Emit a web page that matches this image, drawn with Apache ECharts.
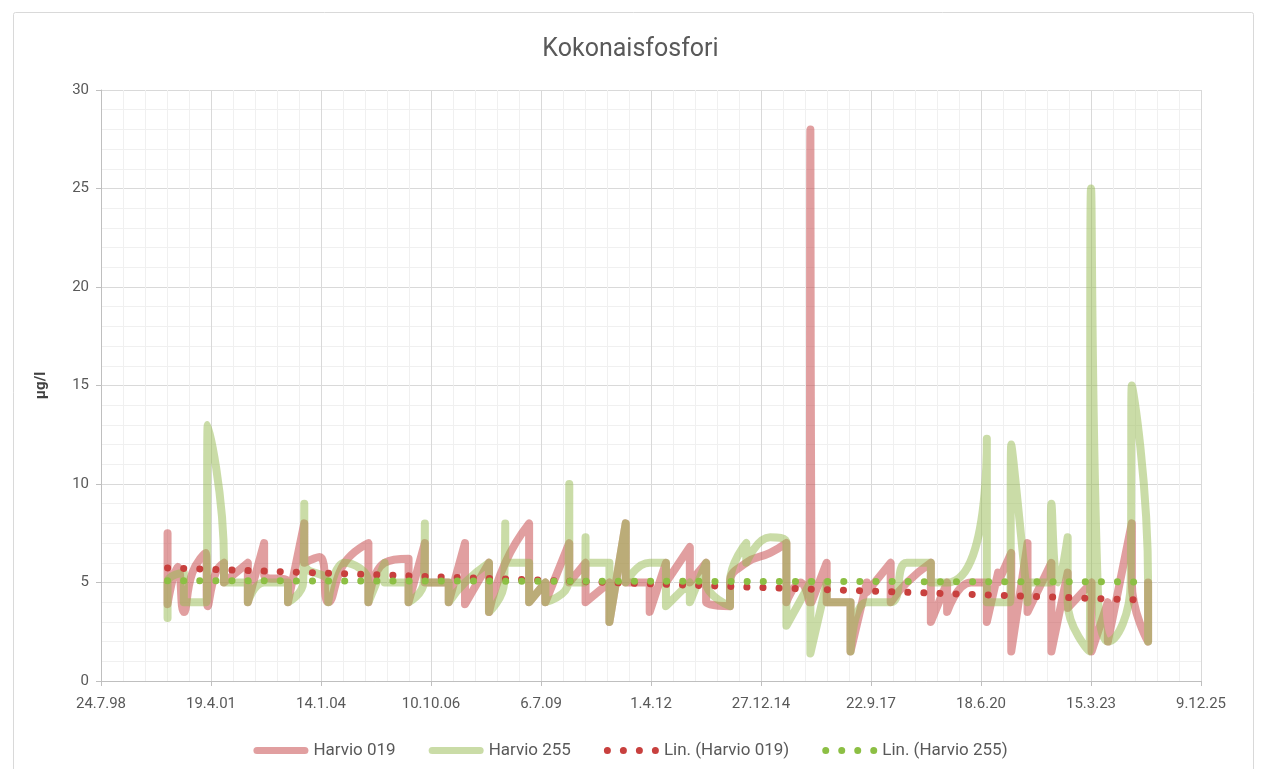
<!DOCTYPE html>
<html>
<head>
<meta charset="utf-8">
<script src="https://cdn.jsdelivr.net/npm/echarts@6/dist/echarts.min.js"></script>
<style>
html, body { margin: 0; padding: 0; background: #fff; }
#chart { width: 1261px; height: 769px; }
</style>
</head>
<body>
<div id="chart"></div>
<script>
// Harvio 019: sample dates and values (two depths on most dates)
var dates019 = [
    '2000-03-20', '2000-03-20', '2000-06-20', '2000-08-15', '2000-11-01', '2001-03-01', '2001-03-20', '2001-06-01',
    '2001-08-15', '2001-08-15', '2002-03-20', '2002-03-20', '2002-08-15', '2002-08-15', '2003-03-20', '2003-03-20',
    '2003-08-15', '2003-08-15', '2004-01-01', '2004-03-20', '2004-08-15', '2004-08-15', '2005-03-20', '2005-03-20',
    '2005-08-15', '2005-08-15', '2006-03-20', '2006-03-20', '2006-08-15', '2006-08-15', '2007-03-20', '2007-03-20',
    '2007-08-15', '2007-08-15', '2008-03-20', '2008-03-20', '2008-08-15', '2008-08-15', '2009-03-20', '2009-03-20',
    '2009-08-15', '2009-08-15', '2010-03-20', '2010-03-20', '2010-08-15', '2010-08-15', '2011-03-20', '2011-03-20',
    '2011-08-15', '2011-08-15', '2012-03-20', '2012-03-20', '2012-08-15', '2012-08-15', '2013-03-20', '2013-03-20',
    '2013-08-15', '2013-08-15', '2014-03-20', '2014-03-20', '2014-08-15', '2014-08-15', '2015-03-20', '2015-08-15',
    '2015-08-15', '2015-12-20', '2016-03-10', '2016-03-20', '2016-03-30', '2016-08-15', '2016-08-15', '2017-03-20',
    '2017-03-20', '2017-08-15', '2017-08-15', '2018-03-20', '2018-03-20', '2018-08-15', '2018-08-15', '2019-03-20',
    '2019-03-20', '2019-08-15', '2019-08-15', '2020-03-20', '2020-08-10', '2020-08-10', '2020-11-20', '2020-11-20',
    '2021-03-20', '2021-03-20', '2021-08-15', '2021-08-15', '2022-03-20', '2022-03-20', '2022-08-15', '2022-08-15',
    '2023-03-20', '2023-03-20', '2023-08-15', '2023-08-15', '2024-03-20', '2024-03-20', '2024-08-15', '2024-08-15'
];
var values019 = [
    7.5, 3.9, 5.8, 3.5, 5.5, 6.5, 3.8, 5.5,
    6, 5, 6, 4, 7, 5.4, 5, 4,
    8, 6, 6.3, 4, 6, 6, 7, 4,
    6, 6, 6.2, 4, 7, 5, 5, 4,
    7, 3.9, 6, 3.5, 6, 6, 8, 4,
    5, 4, 7, 5, 6, 4, 5, 3,
    8, 5, 5, 3.5, 6, 5, 6.8, 5,
    6, 4, 3.8, 5, 6, 6, 6.5, 7,
    4, 5, 4, 28, 4, 6, 4, 4,
    1.5, 5, 4.5, 6, 4, 5, 5, 6,
    3, 5, 3.5, 5, 5, 3, 5.5, 5,
    6.5, 1.5, 7, 3.5, 6, 1.5, 5.5, 3.7,
    5, 1.5, 4, 2, 8, 5, 2, 5
];

// Harvio 255
var dates255 = [
    '2000-03-20', '2000-03-20', '2000-08-15', '2000-08-15', '2001-03-10', '2001-03-20', '2001-08-15', '2001-08-15',
    '2002-03-20', '2002-03-20', '2002-08-15', '2002-08-15', '2003-03-20', '2003-03-20', '2003-08-05', '2003-08-15',
    '2003-08-15', '2004-03-20', '2004-03-20', '2004-08-15', '2004-08-15', '2005-03-20', '2005-03-20', '2005-08-15',
    '2005-08-15', '2006-03-20', '2006-03-20', '2006-08-05', '2006-08-15', '2006-08-15', '2007-03-20', '2007-03-20',
    '2007-08-15', '2007-08-15', '2008-03-20', '2008-03-20', '2008-08-05', '2008-08-15', '2008-08-15', '2009-03-20',
    '2009-03-20', '2009-08-15', '2009-08-15', '2010-03-10', '2010-03-20', '2010-03-20', '2010-08-05', '2010-08-15',
    '2010-08-15', '2011-03-20', '2011-03-20', '2011-08-15', '2011-08-15', '2012-03-20', '2012-03-20', '2012-08-15',
    '2012-08-15', '2013-03-20', '2013-03-20', '2013-08-15', '2013-08-15', '2014-03-20', '2014-03-20', '2014-08-15',
    '2014-08-15', '2015-03-20', '2015-08-15', '2015-08-15', '2016-03-20', '2016-03-20', '2016-08-15', '2016-08-15',
    '2017-03-20', '2017-03-20', '2017-08-15', '2017-08-15', '2018-03-20', '2018-03-20', '2018-08-15', '2018-08-15',
    '2019-03-20', '2019-03-20', '2019-08-15', '2019-08-15', '2020-07-20', '2020-08-10', '2020-08-10', '2020-11-20',
    '2020-11-20', '2021-03-10', '2021-03-20', '2021-08-15', '2021-08-15', '2022-03-10', '2022-03-20', '2022-05-20',
    '2022-08-15', '2022-08-15', '2023-03-01', '2023-03-15', '2023-05-20', '2023-08-15', '2024-03-10', '2024-03-20',
    '2024-08-15', '2024-08-15'
];
var values255 = [
    3.2, 5, 5.5, 4, 4, 13, 6, 5,
    5, 4, 5, 5, 5, 4, 5, 9,
    6, 5, 4, 6, 6, 5, 4, 6,
    5, 5, 4, 5, 8, 5, 5, 4,
    5, 5, 6, 3.5, 5, 8, 6, 6,
    4, 5, 4, 5, 10, 5, 5, 7.3,
    6, 6, 3, 8, 5, 6, 6, 6,
    3.8, 5, 4, 6, 5, 3.8, 5, 7,
    6, 7.3, 7, 2.8, 5, 1.4, 5, 4,
    4, 1.5, 4, 4, 4, 4, 6, 6,
    6, 5, 5, 5, 9.5, 12.3, 4, 4,
    4, 4, 12, 4, 5, 5, 9, 5,
    7.3, 4, 1.5, 25, 4, 2, 5, 15,
    5, 2
];

// linear trend end points
var trendDates = ['2000-03-20', '2024-08-15'];
var trend019 = [5.74, 4.1];
var trend255 = [5.09, 5.03];

var seriesNames = ['Harvio 019', 'Harvio 255', 'Lin. (Harvio 019)', 'Lin. (Harvio 255)'];
var yTicks = [0, 5, 10, 15, 20, 25, 30];

// Excel style day serial numbers
var EPOCH = Date.UTC(1899, 11, 30);
function serial(s) {
    var p = s.split('-');
    return (Date.UTC(+p[0], +p[1] - 1, +p[2]) - EPOCH) / 86400000;
}
function fmtDate(v) {
    var d = new Date(EPOCH + v * 86400000);
    var yy = String(d.getUTCFullYear() % 100);
    if (yy.length < 2) yy = '0' + yy;
    return d.getUTCDate() + '.' + (d.getUTCMonth() + 1) + '.' + yy;
}
function pairs(ds, vs) {
    var out = [];
    for (var i = 0; i < vs.length; i++) out.push([serial(ds[i]), vs[i]]);
    return out;
}

var FONT = 'Roboto, "Liberation Sans", sans-serif';
var TXT = '#595959';
var RED = 'rgba(200,80,82,0.55)';
var GREEN = 'rgba(150,185,80,0.5)';

// legend icons: thick rounded bar and four dots
var barIcon = 'path://M3.5,0 H51.5 A3.5,3.5 0 0 1 51.5,7 H3.5 A3.5,3.5 0 0 1 3.5,0 Z';
var dotIcon = 'path://M0,3.5 A3.5,3.5 0 1 1 7,3.5 A3.5,3.5 0 1 1 0,3.5 Z' +
    ' M16,3.5 A3.5,3.5 0 1 1 23,3.5 A3.5,3.5 0 1 1 16,3.5 Z' +
    ' M32,3.5 A3.5,3.5 0 1 1 39,3.5 A3.5,3.5 0 1 1 32,3.5 Z' +
    ' M48,3.5 A3.5,3.5 0 1 1 55,3.5 A3.5,3.5 0 1 1 48,3.5 Z';

var mychart = echarts.init(document.getElementById('chart'));
var option = {
    animation: false,
    backgroundColor: '#fff',
    textStyle: { fontFamily: FONT },
    graphic: [{
        type: 'rect',
        shape: { x: 13.5, y: 12.5, width: 1240, height: 780, r: 2 },
        style: { fill: 'none', stroke: '#d9d9d9', lineWidth: 1 },
        silent: true
    }],
    title: {
        text: 'Kokonaisfosfori',
        left: 'center',
        top: 32,
        textStyle: { color: TXT, fontSize: 25, fontWeight: 'normal', fontFamily: FONT }
    },
    grid: { left: 101, right: 60, top: 90, bottom: 88, containLabel: false },
    legend: {
        data: [
            { name: seriesNames[0], icon: barIcon },
            { name: seriesNames[1], icon: barIcon },
            { name: seriesNames[2], icon: dotIcon },
            { name: seriesNames[3], icon: dotIcon }
        ],
        top: 737,
        left: 'center',
        itemWidth: 55,
        itemHeight: 7,
        itemGap: 33,
        textStyle: { color: TXT, fontSize: 17, fontFamily: FONT }
    },
    xAxis: {
        type: 'value',
        min: 36000,
        max: 46000,
        interval: 1000,
        axisLine: { show: true, lineStyle: { color: '#bfbfbf', width: 1 } },
        axisTick: { show: true, length: 5, lineStyle: { color: '#bfbfbf' } },
        axisLabel: { color: TXT, fontSize: 15, margin: 16, formatter: fmtDate, fontFamily: FONT },
        splitLine: { show: true, lineStyle: { color: '#d9d9d9', width: 1 } },
        minorTick: { show: false, splitNumber: 5 },
        minorSplitLine: { show: true, lineStyle: { color: '#f0f0f0', width: 1 } }
    },
    yAxis: {
        type: 'value',
        min: yTicks[0],
        max: yTicks[yTicks.length - 1],
        interval: 5,
        name: 'µg/l',
        nameLocation: 'middle',
        nameGap: 52,
        nameTextStyle: { color: '#404040', fontSize: 15, fontWeight: 'bold', fontFamily: FONT },
        axisLine: { show: true, lineStyle: { color: '#bfbfbf', width: 1 } },
        axisTick: { show: true, length: 5, lineStyle: { color: '#bfbfbf' } },
        axisLabel: { color: TXT, fontSize: 15, margin: 12, fontFamily: FONT },
        splitLine: { show: true, lineStyle: { color: '#d9d9d9', width: 1 } },
        minorTick: { show: false, splitNumber: 5 },
        minorSplitLine: { show: true, lineStyle: { color: '#f0f0f0', width: 1 } }
    },
    series: [
        {
            name: seriesNames[0],
            type: 'line',
            smooth: 0.5,
            showSymbol: false,
            symbol: 'none',
            itemStyle: { color: RED },
            lineStyle: { color: RED, width: 8, cap: 'round', join: 'round' },
            data: pairs(dates019, values019),
            z: 2
        },
        {
            name: seriesNames[1],
            type: 'line',
            smooth: 0.5,
            showSymbol: false,
            symbol: 'none',
            itemStyle: { color: GREEN },
            lineStyle: { color: GREEN, width: 8, cap: 'round', join: 'round' },
            data: pairs(dates255, values255),
            z: 3
        },
        {
            name: seriesNames[2],
            type: 'line',
            showSymbol: false,
            symbol: 'none',
            itemStyle: { color: '#c8403e' },
            lineStyle: { color: '#c8403e', width: 7, type: [0.1, 16], cap: 'round' },
            data: pairs(trendDates, trend019),
            z: 4
        },
        {
            name: seriesNames[3],
            type: 'line',
            showSymbol: false,
            symbol: 'none',
            itemStyle: { color: '#8cbf44' },
            lineStyle: { color: '#8cbf44', width: 7, type: [0.1, 16], cap: 'round' },
            data: pairs(trendDates, trend255),
            z: 5
        }
    ]
};
mychart.setOption(option);
window.addEventListener('resize', function () {
    mychart.resize();
});
</script>
</body>
</html>
